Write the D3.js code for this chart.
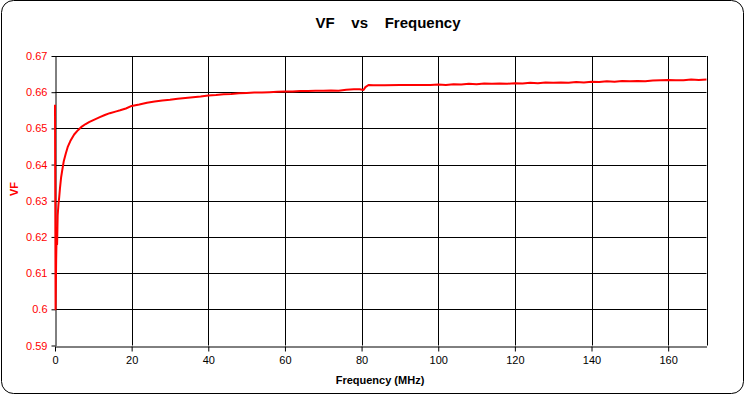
<!DOCTYPE html>
<html>
<head>
<meta charset="utf-8">
<script src="https://cdn.jsdelivr.net/npm/d3@7"></script>
<style>
  body { margin: 0; background: #fff; }
  text { font-family: Arial, "Liberation Sans", sans-serif; }
</style>
</head>
<body>
<svg id="chart" width="745" height="395"></svg>
<script>
// frequency in MHz, velocity factor
const freqMHz = [
  0, 0.15, 0.3, 0.45, 0.55, 0.7, 0.9, 1.1, 1.3, 1.6, 1.9, 2.3, 2.8, 3.3, 4, 5, 6, 7, 8, 9,
  10, 11.7, 13, 14.3, 16, 17, 18.5, 20, 22, 24, 26, 28, 30, 32, 34, 36, 38, 40,
  42, 44, 46, 48, 50, 52, 54, 56, 58, 60, 62, 64, 66, 68, 70, 72, 74, 76, 78, 79.5,
  80.5, 81, 81.8, 83, 86, 90, 94, 98, 100, 102, 104, 106, 108, 110, 112, 114, 116, 118,
  120, 122, 124, 126, 128, 130, 132, 134, 136, 138, 140, 142, 144, 146, 148, 150,
  152, 154, 156, 158, 160, 162, 164, 166, 168, 170
];
const vf = [
  0.6565, 0.600, 0.6135, 0.6225, 0.618, 0.626, 0.629, 0.631, 0.6335, 0.6365, 0.6385, 0.641, 0.643, 0.6448, 0.6465, 0.6483, 0.6495, 0.6505, 0.6512, 0.6518,
  0.6523, 0.6531, 0.6537, 0.6542, 0.6547, 0.6550, 0.6555, 0.6562, 0.6566, 0.6571, 0.6574, 0.6577, 0.6579, 0.6582, 0.6584, 0.6586, 0.6588, 0.6591,
  0.6592, 0.6594, 0.6595, 0.6597, 0.6598, 0.6599, 0.6599, 0.6600, 0.6601, 0.6602, 0.6602, 0.6603, 0.6603, 0.6604, 0.6604, 0.6605, 0.6604, 0.6607, 0.6608, 0.6608,
  0.6606, 0.6614, 0.6620, 0.6619, 0.6619, 0.6620, 0.6620, 0.6620, 0.6621, 0.6620, 0.6622, 0.6621, 0.6623, 0.6622, 0.6624, 0.6623, 0.6624, 0.6623,
  0.6625, 0.6624, 0.6626, 0.6625, 0.6627, 0.6626, 0.6627, 0.6626, 0.6628, 0.6627, 0.6629, 0.6628, 0.6630, 0.6629, 0.6631, 0.6630,
  0.6631, 0.6630, 0.6632, 0.6633, 0.6634, 0.6633, 0.6633, 0.6635, 0.6634, 0.6635
];
const xTicks = [0, 20, 40, 60, 80, 100, 120, 140, 160];
const yTicks = [0.59, 0.60, 0.61, 0.62, 0.63, 0.64, 0.65, 0.66, 0.67];

const svg = d3.select('#chart');
const plot = { left: 55, top: 56, right: 706.5, bottom: 345.5 };

// outer frame
svg.append('rect')
  .attr('x', 1.5).attr('y', 0.5).attr('width', 742).attr('height', 393)
  .attr('rx', 12).attr('ry', 12)
  .attr('fill', '#fff').attr('stroke', '#000').attr('stroke-width', 1);

const x = d3.scaleLinear().domain([0, 170]).range([plot.left, plot.right]);
const y = d3.scaleLinear().domain([0.59, 0.67]).range([plot.bottom, plot.top]);

// grid
svg.append('g').selectAll('line').data(xTicks.slice(1)).join('line')
  .attr('x1', d => Math.round(x(d)) + 0.5).attr('x2', d => Math.round(x(d)) + 0.5)
  .attr('y1', plot.top).attr('y2', plot.bottom)
  .attr('stroke', '#000');
svg.append('g').selectAll('line').data(yTicks.slice(1)).join('line')
  .attr('x1', plot.left).attr('x2', plot.right)
  .attr('y1', d => Math.round(y(d)) + 0.5).attr('y2', d => Math.round(y(d)) + 0.5)
  .attr('stroke', '#000');

// right edge of plot area
svg.append('line')
  .attr('x1', Math.round(plot.right) + 0.5).attr('x2', Math.round(plot.right) + 0.5)
  .attr('y1', plot.top).attr('y2', plot.bottom).attr('stroke', '#000');

// axes
const xAxis = svg.append('g')
  .attr('transform', 'translate(0,' + (Math.round(plot.bottom) + 0.5) + ')')
  .call(d3.axisBottom(x).tickValues(xTicks).tickSizeInner(5).tickSizeOuter(0).tickPadding(5));
xAxis.select('.domain').attr('stroke', '#000');
xAxis.selectAll('line').attr('stroke', '#000');
xAxis.selectAll('text').attr('fill', '#000').style('font-size', '11px');

const yAxis = svg.append('g')
  .attr('transform', 'translate(' + (plot.left + 0.5) + ',0)')
  .call(d3.axisLeft(y).tickValues(yTicks).tickFormat(d => d3.format('')(+d.toFixed(2))).tickSizeInner(4).tickSizeOuter(0).tickPadding(4));
yAxis.select('.domain').attr('stroke', '#000');
yAxis.selectAll('line').attr('stroke', '#000');
yAxis.selectAll('text').attr('fill', '#ff0000').style('font-size', '11px');

// data line
const line = d3.line().x((d, i) => x(freqMHz[i])).y(d => y(d));
svg.append('path')
  .datum(vf)
  .attr('d', line)
  .attr('fill', 'none')
  .attr('stroke', '#ff0000')
  .attr('stroke-width', 2)
  .attr('stroke-linejoin', 'round');

// titles
svg.append('text')
  .attr('x', 388).attr('y', 28)
  .attr('text-anchor', 'middle')
  .style('font-size', '15px').style('font-weight', 'bold').style('white-space', 'pre')
  .text('VF    vs    Frequency');

svg.append('text')
  .attr('x', 380).attr('y', 384)
  .attr('text-anchor', 'middle')
  .style('font-size', '11px').style('font-weight', 'bold')
  .text('Frequency (MHz)');

svg.append('text')
  .attr('transform', 'translate(18,189) rotate(-90)')
  .attr('text-anchor', 'middle')
  .attr('fill', '#ff0000')
  .style('font-size', '11px').style('font-weight', 'bold')
  .text('VF');
</script>
</body>
</html>
